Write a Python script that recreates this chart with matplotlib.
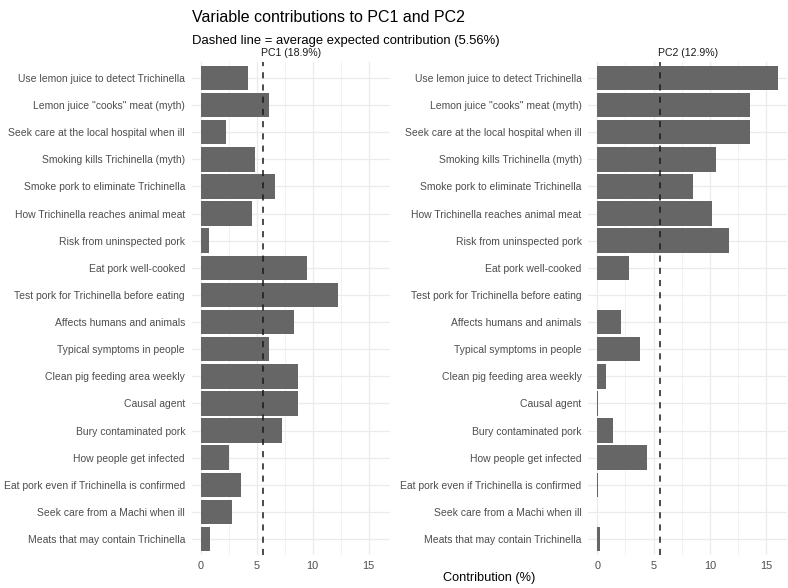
import numpy as np
import matplotlib.pyplot as plt

plt.rcParams["font.family"] = ["Liberation Sans", "DejaVu Sans"]

# ---- data ----
variables = [
    "Use lemon juice to detect Trichinella",
    "Lemon juice \"cooks\" meat (myth)",
    "Seek care at the local hospital when ill",
    "Smoking kills Trichinella (myth)",
    "Smoke pork to eliminate Trichinella",
    "How Trichinella reaches animal meat",
    "Risk from uninspected pork",
    "Eat pork well-cooked",
    "Test pork for Trichinella before eating",
    "Affects humans and animals",
    "Typical symptoms in people",
    "Clean pig feeding area weekly",
    "Causal agent",
    "Bury contaminated pork",
    "How people get infected",
    "Eat pork even if Trichinella is confirmed",
    "Seek care from a Machi when ill",
    "Meats that may contain Trichinella",
]
pc1_contrib = [4.20, 6.10, 2.23, 4.85, 6.63, 4.61, 0.71, 9.46, 12.23,
               8.33, 6.13, 8.66, 8.71, 7.23, 2.55, 3.63, 2.82, 0.80]
pc2_contrib = [16.07, 13.57, 13.60, 10.60, 8.54, 10.22, 11.71, 2.79, 0.0,
               2.10, 3.82, 0.77, 0.08, 1.42, 4.44, 0.10, 0.0, 0.21]
panel_titles = ["PC1 (18.9%)", "PC2 (12.9%)"]
expected = 100.0 / len(variables)

# ---- figure ----
fig = plt.figure(figsize=(7.88, 5.88), dpi=100)
W, H = 788.0, 588.0
top_px, bot_px = 61.7, 555.3
panels_px = [(191.7, 389.6), (588.3, 787.0)]

xmax = max(max(pc1_contrib), max(pc2_contrib))
xlim = (-0.05 * xmax, 1.05 * xmax)
n = len(variables)
ypos = np.arange(n)[::-1] + 1  # first variable at top

grid_col = "#EBEBEB"
txt_col = "#4D4D4D"

for (x0, x1), vals, title in zip(panels_px, [pc1_contrib, pc2_contrib], panel_titles):
    ax = fig.add_axes([x0 / W, (H - bot_px) / H, (x1 - x0) / W, (bot_px - top_px) / H])
    ax.set_xlim(*xlim)
    ax.set_ylim(0.4, n + 0.6)
    # grid
    for g in [0, 5, 10, 15]:
        ax.axvline(g, color=grid_col, lw=0.9, zorder=0)
    for g in [2.5, 7.5, 12.5]:
        ax.axvline(g, color=grid_col, lw=0.5, zorder=0)
    for y in ypos:
        ax.axhline(y, color=grid_col, lw=0.9, zorder=0)
    ax.barh(ypos, vals, height=0.9, color="#666666", zorder=2)
    ax.axvline(expected, color="#1a1a1a", lw=1.1, ls=(0, (4, 4)), zorder=3)

    ax.set_yticks(ypos)
    ax.set_yticklabels(variables, fontsize=7.5, color=txt_col)
    ax.set_xticks([0, 5, 10, 15])
    ax.set_xticklabels(["0", "5", "10", "15"], fontsize=7.8, color=txt_col)
    ax.tick_params(axis="y", length=0, pad=4.8)
    ax.tick_params(axis="x", length=0, pad=4)
    for s in ax.spines.values():
        s.set_visible(False)
    ax.set_title(title, fontsize=7.6, color="#1A1A1A", pad=4)

fig.text(191.7 / W, 1 - 18 / H, "Variable contributions to PC1 and PC2",
         fontsize=11.5, ha="left", va="center")
fig.text(191.7 / W, 1 - 41 / H, "Dashed line = average expected contribution (5.56%)",
         fontsize=9.4, ha="left", va="center")
fig.text(489.0 / W, 1 - 578 / H, "Contribution (%)", fontsize=9.2,
         ha="center", va="center")

fig.savefig("out.png", dpi=100)
